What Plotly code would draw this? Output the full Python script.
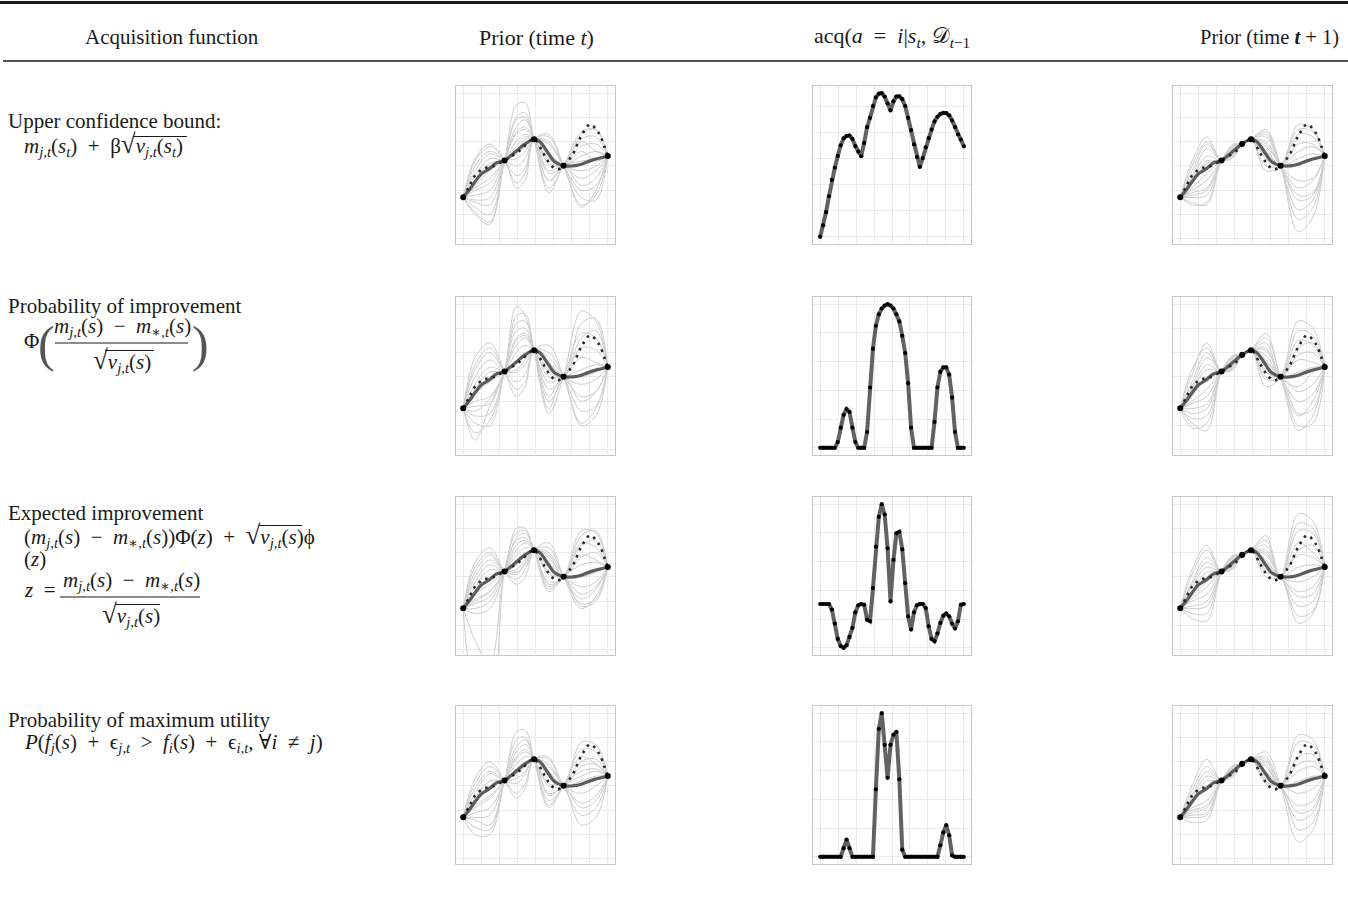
import plotly.graph_objects as go

W, H = 1348, 899
FONT = "Liberation Serif, Times New Roman, DejaVu Serif, serif"

# ---------------- data ----------------
N_POINTS = 50
X_EVAL = [i / (N_POINTS - 1) for i in range(N_POINTS)]

OBS_IDX = [0, 14, 24, 34, 49]
OBS_Y = [-1.29, 0.23, 1.10, 0.01, 0.41]
NEXT_IDX = [21, 21, 21, 21]          # chosen action per row
NEXT_Y = [0.91, 0.91, 0.91, 0.91]

MEAN_IDX = [0, 2, 4, 6, 9, 11, 14, 16, 18, 21, 24, 26, 29, 31, 34, 37, 39, 44, 49]
MEAN_Y = [-1.29, -0.99, -0.65, -0.34, -0.10, 0.11, 0.23, 0.41, 0.62, 0.91, 1.10, 1.00,
          0.49, 0.17, 0.01, 0.00, 0.04, 0.25, 0.41]

TRUE_IDX = [0, 2, 4, 7, 10, 14, 19, 24, 27, 30, 32, 34, 37, 40, 43, 46, 48, 49]
TRUE_Y = [-1.29, -0.85, -0.40, -0.10, -0.02, 0.23, 0.62, 1.10, 0.55, 0.00, -0.14, 0.01,
          0.45, 1.23, 1.71, 1.35, 0.75, 0.41]

KNOT_IDX = [0, 4, 9, 14, 18, 21, 24, 29, 34, 40, 45, 49]

SAMPLES_UCB_T = [
    [-1.29, 0.3, 0.9, 0.23, -0.7, -0.3, 1.10, 1.2, 0.01, -1.6, -1.2, 0.41],
    [-1.29, -1.9, -2.3, 0.23, 2.5, 2.6, 1.10, -0.9, 0.01, 1.4, 1.5, 0.41],
    [-1.29, -0.2, 0.5, 0.23, 0.0, 0.3, 1.10, 0.9, 0.01, -1.0, -0.8, 0.41],
    [-1.29, -1.5, -1.6, 0.23, 1.9, 2.0, 1.10, -0.6, 0.01, 1.1, 1.2, 0.41],
    [-1.29, -0.6, 0.1, 0.23, 0.3, 0.6, 1.10, 0.5, 0.01, -0.5, -0.2, 0.41],
    [-1.29, -1.2, -1.0, 0.23, 1.4, 1.6, 1.10, -0.3, 0.01, 0.8, 0.9, 0.41],
    [-1.29, 0.0, 0.6, 0.23, -0.4, -0.1, 1.10, 1.0, 0.01, -1.3, -1.4, 0.41],
    [-1.29, -1.7, -2.0, 0.23, 2.0, 2.2, 1.10, -1.1, 0.01, 1.0, 0.6, 0.41],
    [-1.29, -0.9, -0.5, 0.23, 1.0, 1.3, 1.10, 0.1, 0.01, 0.4, 0.6, 0.41],
    [-1.29, -0.4, 0.3, 0.23, 0.5, 0.8, 1.10, 0.4, 0.01, -0.2, 0.0, 0.41],
    [-1.29, -1.4, -1.3, 0.23, 1.6, 1.9, 1.10, -0.6, 0.01, 0.2, 0.3, 0.41],
    [-1.29, 0.2, 0.8, 0.23, -0.9, -0.6, 1.10, 1.3, 0.01, -1.7, -1.0, 0.41],
    [-1.29, -1.0, -0.7, 0.23, 0.8, 1.2, 1.10, 0.2, 0.01, 1.3, 1.5, 0.41],
    [-1.29, -0.8, -0.2, 0.23, 0.6, 1.1, 1.10, -0.2, 0.01, -0.8, -0.5, 0.41],
    [-1.29, -2.0, -2.4, 0.23, 1.3, 1.5, 1.10, 0.3, 0.01, 0.6, 0.2, 0.41],
]
SAMPLES_UCB_T1 = [
    [-1.29, 0.2, 1.2, 0.23, 0.55, 0.91, 1.10, 1.5, 0.01, -2.7, -2.1, 0.41],
    [-1.29, -1.5, -1.6, 0.23, 0.75, 0.91, 1.10, 0.0, 0.01, 1.7, 1.5, 0.41],
    [-1.29, -0.4, 0.7, 0.23, 0.45, 0.91, 1.10, 1.3, 0.01, -1.8, -1.4, 0.41],
    [-1.29, -1.2, -1.0, 0.23, 0.85, 0.91, 1.10, 0.3, 0.01, 1.3, 1.2, 0.41],
    [-1.29, -0.2, 0.9, 0.23, 0.35, 0.91, 1.10, 1.2, 0.01, -1.2, -1.1, 0.41],
    [-1.29, -1.0, -0.6, 0.23, 0.8, 0.91, 1.10, 0.6, 0.01, 0.9, 0.9, 0.41],
    [-1.29, -0.7, 0.1, 0.23, 0.6, 0.91, 1.10, 0.9, 0.01, -0.6, -0.5, 0.41],
    [-1.29, 0.0, 1.0, 0.23, 0.4, 0.91, 1.10, 1.4, 0.01, -2.2, -1.7, 0.41],
    [-1.29, -1.6, -1.5, 0.23, 0.7, 0.91, 1.10, -0.2, 0.01, 1.5, 1.4, 0.41],
    [-1.29, -0.9, -0.3, 0.23, 0.65, 0.91, 1.10, 0.7, 0.01, 0.3, 0.5, 0.41],
    [-1.29, -0.5, 0.4, 0.23, 0.5, 0.91, 1.10, 1.0, 0.01, -0.9, -0.6, 0.41],
    [-1.29, -1.3, -1.2, 0.23, 0.9, 0.91, 1.10, 0.4, 0.01, 0.1, 0.3, 0.41],
    [-1.29, -0.6, 0.2, 0.23, 0.55, 0.91, 1.10, 0.8, 0.01, -1.4, -1.2, 0.41],
    [-1.29, -1.1, -0.9, 0.23, 0.6, 0.91, 1.10, 0.5, 0.01, 0.6, 0.8, 0.41],
]
SAMPLES_PI_T = [
    [-1.29, -2.3, -1.8, 0.23, 2.9, 2.5, 1.10, -1.5, 0.01, 2.7, 2.3, 0.41],
    [-1.29, 0.8, 1.4, 0.23, -0.8, -0.4, 1.10, 1.0, 0.01, -2.0, -1.6, 0.41],
    [-1.29, -1.6, -1.5, 0.23, 2.2, 2.3, 1.10, -1.0, 0.01, 1.8, 1.6, 0.41],
    [-1.29, 0.3, 1.0, 0.23, -0.2, 0.1, 1.10, 0.8, 0.01, -1.4, -1.2, 0.41],
    [-1.29, -1.0, -0.8, 0.23, 1.6, 1.8, 1.10, -0.5, 0.01, 1.2, 1.1, 0.41],
    [-1.29, -0.3, 0.4, 0.23, 0.3, 0.7, 1.10, 0.5, 0.01, -0.8, -0.6, 0.41],
    [-1.29, -1.9, -2.0, 0.23, 1.9, 2.0, 1.10, -0.2, 0.01, 0.8, 0.6, 0.41],
    [-1.29, 0.5, 1.2, 0.23, -0.5, -0.2, 1.10, 1.3, 0.01, -1.9, -1.3, 0.41],
    [-1.29, -0.7, -0.2, 0.23, 1.0, 1.3, 1.10, 0.0, 0.01, 0.3, 0.5, 0.41],
    [-1.29, -1.2, -1.1, 0.23, 1.3, 1.6, 1.10, 0.2, 0.01, 1.6, 1.9, 0.41],
    [-1.29, 0.0, 0.7, 0.23, 0.2, 0.5, 1.10, 0.6, 0.01, -0.3, -0.1, 0.41],
    [-1.29, -2.6, -1.2, 0.23, 1.5, 1.7, 1.10, -0.8, 0.01, -1.0, -0.6, 0.41],
    [-1.29, -0.5, 0.2, 0.23, 0.6, 1.0, 1.10, 0.3, 0.01, 2.2, 2.4, 0.41],
    [-1.29, -1.4, -0.9, 0.23, 2.5, 2.6, 1.10, -1.3, 0.01, 0.0, 0.2, 0.41],
]
SAMPLES_PI_T1 = [
    [-1.29, -0.2, 1.0, 0.23, 0.4, 0.91, 1.10, 1.6, 0.01, -2.2, -1.6, 0.41],
    [-1.29, -1.7, -1.6, 0.23, 0.8, 0.91, 1.10, -0.1, 0.01, 1.9, 1.7, 0.41],
    [-1.29, 0.1, 1.4, 0.23, 0.35, 0.91, 1.10, 1.8, 0.01, -1.6, -1.0, 0.41],
    [-1.29, -1.3, -1.1, 0.23, 0.85, 0.91, 1.10, 0.2, 0.01, 1.2, 1.4, 0.41],
    [-1.29, -0.5, 0.5, 0.23, 0.5, 0.91, 1.10, 1.1, 0.01, -1.0, -0.7, 0.41],
    [-1.29, -1.0, -0.5, 0.23, 0.75, 0.91, 1.10, 0.5, 0.01, 0.7, 0.6, 0.41],
    [-1.29, -2.1, -1.9, 0.23, 0.9, 0.91, 1.10, -0.4, 0.01, 2.3, 2.0, 0.41],
    [-1.29, 0.3, 1.2, 0.23, 0.3, 0.91, 1.10, 1.4, 0.01, -0.4, 0.2, 0.41],
    [-1.29, -0.8, 0.0, 0.23, 0.6, 0.91, 1.10, 0.9, 0.01, 0.2, 0.4, 0.41],
    [-1.29, -1.5, -1.3, 0.23, 0.7, 0.91, 1.10, 0.3, 0.01, -1.5, -1.3, 0.41],
    [-1.29, -0.4, 0.8, 0.23, 0.45, 0.91, 1.10, 0.7, 0.01, 1.5, 1.3, 0.41],
    [-1.29, -1.1, -0.8, 0.23, 0.65, 0.91, 1.10, 0.0, 0.01, -0.6, -0.3, 0.41],
    [-1.29, -0.6, 0.3, 0.23, 0.55, 0.91, 1.10, 1.2, 0.01, 0.9, 1.0, 0.41],
    [-1.29, -1.9, -2.2, 0.23, 0.8, 0.91, 1.10, 0.6, 0.01, -2.0, -1.9, 0.41],
]
SAMPLES_EI_T = [
    [-1.29, -4.5, -5.0, 0.23, 1.8, 1.9, 1.10, -0.6, 0.01, 1.3, 1.5, 0.41],
    [-1.29, -2.6, -3.6, 0.23, 1.5, 1.6, 1.10, -0.4, 0.01, 0.9, 0.7, 0.41],
    [-1.29, 0.6, 1.2, 0.23, -0.3, 0.0, 1.10, 1.4, 0.01, -1.3, -0.8, 0.41],
    [-1.29, 0.2, 0.9, 0.23, 0.2, 0.5, 1.10, 1.0, 0.01, -0.9, -0.5, 0.41],
    [-1.29, -1.0, -0.6, 0.23, 1.3, 1.5, 1.10, -0.3, 0.01, 1.9, 1.8, 0.41],
    [-1.29, -0.4, 0.3, 0.23, 0.5, 0.9, 1.10, 0.6, 0.01, -0.4, -0.2, 0.41],
    [-1.29, -1.3, -1.0, 0.23, 1.6, 1.8, 1.10, -0.5, 0.01, 0.5, 0.6, 0.41],
    [-1.29, 0.4, 1.0, 0.23, -0.1, 0.3, 1.10, 1.2, 0.01, -1.1, -0.9, 0.41],
    [-1.29, -0.7, -0.3, 0.23, 0.9, 1.2, 1.10, 0.2, 0.01, 1.4, 1.2, 0.41],
    [-1.29, -0.2, 0.5, 0.23, 0.3, 0.7, 1.10, 0.9, 0.01, 0.0, 0.2, 0.41],
    [-1.29, -1.5, -1.3, 0.23, 2.0, 2.0, 1.10, -0.2, 0.01, 1.7, 1.9, 0.41],
    [-1.29, -0.9, -0.6, 0.23, 1.1, 1.4, 1.10, 0.4, 0.01, -0.7, -0.4, 0.41],
    [-1.29, 0.0, 0.7, 0.23, 0.1, 0.6, 1.10, 0.8, 0.01, 0.8, 1.0, 0.41],
    [-1.29, -1.1, -0.8, 0.23, 0.7, 1.0, 1.10, 0.1, 0.01, -1.2, -1.0, 0.41],
]
SAMPLES_EI_T1 = [
    [-1.29, 0.1, 1.1, 0.23, 0.4, 0.91, 1.10, 1.7, 0.01, 2.6, 2.3, 0.41],
    [-1.29, -1.3, -1.2, 0.23, 0.8, 0.91, 1.10, 0.2, 0.01, -1.9, -1.5, 0.41],
    [-1.29, -0.3, 0.6, 0.23, 0.5, 0.91, 1.10, 1.3, 0.01, 1.9, 1.8, 0.41],
    [-1.29, -1.0, -0.7, 0.23, 0.75, 0.91, 1.10, 0.5, 0.01, -1.2, -1.0, 0.41],
    [-1.29, 0.3, 1.3, 0.23, 0.35, 0.91, 1.10, 1.5, 0.01, 1.4, 1.0, 0.41],
    [-1.29, -0.6, 0.2, 0.23, 0.6, 0.91, 1.10, 0.9, 0.01, -0.6, -0.4, 0.41],
    [-1.29, -1.5, -1.5, 0.23, 0.85, 0.91, 1.10, 0.0, 0.01, 0.9, 0.8, 0.41],
    [-1.29, -0.2, 0.8, 0.23, 0.45, 0.91, 1.10, 1.1, 0.01, -0.2, 0.0, 0.41],
    [-1.29, -0.8, -0.2, 0.23, 0.7, 0.91, 1.10, 0.7, 0.01, 0.4, 0.5, 0.41],
    [-1.29, -1.2, -1.0, 0.23, 0.8, 0.91, 1.10, 0.3, 0.01, -1.6, -1.4, 0.41],
    [-1.29, -0.4, 0.4, 0.23, 0.55, 0.91, 1.10, 1.0, 0.01, 2.2, 2.0, 0.41],
    [-1.29, -0.9, -0.4, 0.23, 0.65, 0.91, 1.10, 0.6, 0.01, -0.8, -0.7, 0.41],
    [-1.29, -1.7, -1.8, 0.23, 0.9, 0.91, 1.10, 0.4, 0.01, 1.1, 1.3, 0.41],
]
SAMPLES_PMU_T = [
    [-1.29, 0.1, 0.8, 0.23, -0.3, 0.1, 1.10, 1.1, 0.01, -1.2, -0.9, 0.41],
    [-1.29, -1.4, -1.6, 0.23, 1.9, 2.0, 1.10, -0.6, 0.01, 1.5, 1.4, 0.41],
    [-1.29, -0.3, 0.5, 0.23, 0.3, 0.6, 1.10, 0.8, 0.01, -0.7, -0.4, 0.41],
    [-1.29, -1.1, -0.9, 0.23, 1.4, 1.7, 1.10, -0.3, 0.01, 1.0, 1.1, 0.41],
    [-1.29, -0.6, 0.0, 0.23, 0.7, 1.0, 1.10, 0.4, 0.01, -1.6, -1.3, 0.41],
    [-1.29, -1.7, -1.8, 0.23, 1.6, 1.9, 1.10, -0.8, 0.01, 0.6, 0.7, 0.41],
    [-1.29, 0.3, 1.0, 0.23, -0.5, -0.1, 1.10, 1.2, 0.01, 0.2, 0.4, 0.41],
    [-1.29, -0.9, -0.5, 0.23, 1.1, 1.4, 1.10, 0.0, 0.01, 1.8, 1.7, 0.41],
    [-1.29, -0.1, 0.6, 0.23, 0.1, 0.5, 1.10, 0.9, 0.01, -0.3, 0.0, 0.41],
    [-1.29, -1.3, -1.2, 0.23, 1.2, 1.5, 1.10, 0.1, 0.01, -0.9, -0.6, 0.41],
    [-1.29, -0.5, 0.2, 0.23, 0.5, 0.8, 1.10, 0.6, 0.01, 0.8, 0.9, 0.41],
    [-1.29, -0.8, -0.4, 0.23, 0.9, 1.2, 1.10, -0.4, 0.01, 0.4, 0.6, 0.41],
    [-1.29, -2.0, -2.0, 0.23, 2.2, 2.3, 1.10, -0.9, 0.01, 1.2, 0.9, 0.41],
]
SAMPLES_PMU_T1 = [
    [-1.29, 0.0, 1.1, 0.23, 0.4, 0.91, 1.10, 1.4, 0.01, -2.3, -1.8, 0.41],
    [-1.29, -1.2, -1.1, 0.23, 0.8, 0.91, 1.10, 0.2, 0.01, 1.8, 1.7, 0.41],
    [-1.29, -0.5, 0.4, 0.23, 0.5, 0.91, 1.10, 1.0, 0.01, -1.4, -1.1, 0.41],
    [-1.29, -0.9, -0.6, 0.23, 0.7, 0.91, 1.10, 0.6, 0.01, 1.2, 1.3, 0.41],
    [-1.29, -0.2, 0.8, 0.23, 0.45, 0.91, 1.10, 1.2, 0.01, -0.8, -0.6, 0.41],
    [-1.29, -1.5, -1.4, 0.23, 0.85, 0.91, 1.10, 0.3, 0.01, 0.6, 0.8, 0.41],
    [-1.29, -0.7, 0.0, 0.23, 0.6, 0.91, 1.10, 0.8, 0.01, 2.1, 1.9, 0.41],
    [-1.29, -1.0, -0.8, 0.23, 0.75, 0.91, 1.10, 0.4, 0.01, -1.8, -1.5, 0.41],
    [-1.29, -0.4, 0.6, 0.23, 0.55, 0.91, 1.10, 1.1, 0.01, 0.2, 0.4, 0.41],
    [-1.29, -1.3, -1.2, 0.23, 0.8, 0.91, 1.10, 0.1, 0.01, -0.3, -0.1, 0.41],
    [-1.29, -0.6, 0.2, 0.23, 0.6, 0.91, 1.10, 0.9, 0.01, 0.9, 1.0, 0.41],
    [-1.29, -1.1, -0.9, 0.23, 0.7, 0.91, 1.10, 0.5, 0.01, -1.1, -0.9, 0.41],
]

ACQ_UCB = [0.00, 0.44, 0.94, 1.55, 2.18, 2.64, 3.09, 3.50, 3.76, 3.86,
           3.87, 3.74, 3.47, 3.26, 3.08, 3.59, 4.19, 4.55, 5.00, 5.33,
           5.47, 5.49, 5.36, 5.10, 4.83, 5.18, 5.36, 5.37, 5.26, 5.00,
           4.55, 4.08, 3.53, 3.05, 2.67, 3.01, 3.42, 3.77, 4.10, 4.41,
           4.59, 4.69, 4.74, 4.73, 4.64, 4.45, 4.19, 3.91, 3.72, 3.46]
ACQ_PI = [0, 0, 0, 0, 0, 0, 0.04, 0.14, 0.23, 0.27,
          0.25, 0.14, 0.04, 0, 0, 0, 0.11, 0.42, 0.69, 0.85,
          0.93, 0.97, 0.99, 1.00, 0.99, 0.97, 0.93, 0.88, 0.78, 0.66,
          0.45, 0.14, 0, 0, 0, 0, 0, 0, 0, 0.18,
          0.42, 0.53, 0.56, 0.56, 0.51, 0.35, 0.11, 0, 0, 0]
ACQ_EI = [0.305, 0.305, 0.305, 0.305, 0.266, 0.169, 0.062, 0.012, 0.000, 0.018,
          0.076, 0.139, 0.247, 0.296, 0.305, 0.300, 0.196, 0.185, 0.416, 0.704,
          0.912, 1.000, 0.928, 0.693, 0.323, 0.612, 0.797, 0.808, 0.686, 0.450,
          0.219, 0.127, 0.247, 0.296, 0.305, 0.305, 0.277, 0.150, 0.062, 0.046,
          0.099, 0.173, 0.224, 0.238, 0.219, 0.169, 0.134, 0.185, 0.300, 0.305]
ACQ_PMU = [0, 0, 0, 0, 0, 0, 0, 0, 0.06, 0.12,
           0.06, 0, 0, 0, 0, 0, 0, 0, 0, 0.47,
           0.89, 1.00, 0.78, 0.55, 0.78, 0.85, 0.87, 0.54, 0.05, 0,
           0, 0, 0, 0, 0, 0, 0, 0, 0, 0,
           0, 0.08, 0.17, 0.22, 0.15, 0.01, 0, 0, 0, 0]

ROW_SAMPLES = [(SAMPLES_UCB_T, SAMPLES_UCB_T1), (SAMPLES_PI_T, SAMPLES_PI_T1),
               (SAMPLES_EI_T, SAMPLES_EI_T1), (SAMPLES_PMU_T, SAMPLES_PMU_T1)]
ROW_ACQ = [ACQ_UCB, ACQ_PI, ACQ_EI, ACQ_PMU]
ACQ_DTICK = [1, 0.2, 0.2, 0.2]

# ---------------- layout geometry (pixels) ----------------
COLS = [(456, 615), (813, 971), (1173, 1332)]
ROWS = [(86, 244), (297, 455), (497, 655), (706, 864)]

def px(x):
    return x / W

def py(y):
    return 1 - y / H

fig = go.Figure()
layout = dict(width=W, height=H, margin=dict(l=0, r=0, t=0, b=0),
              paper_bgcolor="white", plot_bgcolor="white", showlegend=False)

AX_STYLE = dict(showline=True, mirror=True, linecolor="#c6c6c6", linewidth=1,
                showgrid=True, gridcolor="#ebebeb", gridwidth=1, zeroline=False,
                showticklabels=False, ticks="", fixedrange=True)

def add_axes(k, r, c, yrange, ydtick, y0tick=0):
    x0, x1 = COLS[c]
    y0, y1 = ROWS[r]
    sfx = "" if k == 1 else str(k)
    layout["xaxis" + sfx] = dict(domain=[px(x0), px(x1)], range=[-0.05, 1.05],
                                 dtick=0.125, tick0=0, anchor="y" + sfx, **AX_STYLE)
    layout["yaxis" + sfx] = dict(domain=[py(y1), py(y0)], range=yrange,
                                 dtick=ydtick, tick0=y0tick, anchor="x" + sfx, **AX_STYLE)
    return "x" + sfx, "y" + sfx

PRIOR_RANGE = [-3.21, 3.29]

def prior_panel(xa, ya, samples, extra_idx=None, extra_y=None):
    kx = [X_EVAL[i] for i in KNOT_IDX]
    for s in samples:
        fig.add_trace(go.Scatter(x=kx, y=s, mode="lines", xaxis=xa, yaxis=ya,
                                 line=dict(color="#cdcdcd", width=1, shape="spline", smoothing=1.0),
                                 hoverinfo="skip"))
    fig.add_trace(go.Scatter(x=[X_EVAL[i] for i in MEAN_IDX], y=MEAN_Y, mode="lines",
                             xaxis=xa, yaxis=ya,
                             line=dict(color="#5c5c5c", width=3.2, shape="spline", smoothing=1.0)))
    fig.add_trace(go.Scatter(x=[X_EVAL[i] for i in TRUE_IDX], y=TRUE_Y, mode="lines",
                             xaxis=xa, yaxis=ya,
                             line=dict(color="#262626", width=2.6, dash="2.5px,5px",
                                       shape="spline", smoothing=1.0)))
    ox = [X_EVAL[i] for i in OBS_IDX]
    oy = list(OBS_Y)
    if extra_idx is not None:
        ox.append(X_EVAL[extra_idx])
        oy.append(extra_y)
    fig.add_trace(go.Scatter(x=ox, y=oy, mode="markers", xaxis=xa, yaxis=ya,
                             marker=dict(color="black", size=6), cliponaxis=False))

def acq_panel(xa, ya, vals):
    fig.add_trace(go.Scatter(x=X_EVAL, y=vals, mode="lines+markers", xaxis=xa, yaxis=ya,
                             line=dict(color="#626262", width=4),
                             marker=dict(color="black", size=4.2)))

k = 1
for r in range(4):
    st, st1 = ROW_SAMPLES[r]
    xa, ya = add_axes(k, r, 0, PRIOR_RANGE, 1); k += 1
    prior_panel(xa, ya, st)
    vals = ROW_ACQ[r]
    vmax = max(vals)
    pad = 0.05 * vmax
    xa, ya = add_axes(k, r, 1, [-pad, vmax + pad], ACQ_DTICK[r]); k += 1
    acq_panel(xa, ya, vals)
    xa, ya = add_axes(k, r, 2, PRIOR_RANGE, 1); k += 1
    prior_panel(xa, ya, st1, NEXT_IDX[r], NEXT_Y[r])

# ---------------- text ----------------
ann = []

def txt(x, y, s, size=21, xanchor="left", color="#1a1a1a"):
    ann.append(dict(x=px(x), y=py(y), xref="paper", yref="paper", text=s, showarrow=False,
                    xanchor=xanchor, yanchor="middle", align="left",
                    font=dict(family=FONT, size=size, color=color)))

shapes = []

def hline(x0, x1, y, w=1.2, color="#1a1a1a"):
    shapes.append(dict(type="line", xref="paper", yref="paper", x0=px(x0), x1=px(x1),
                       y0=py(y), y1=py(y), line=dict(color=color, width=w)))

# table rules
hline(0, W, 2.5, 3)
hline(3, W, 61, 1.5)

# header
txt(172, 37, "Acquisition function", xanchor="center")
txt(536, 37, "Prior (time <i>t</i>)", xanchor="center", size=22)
txt(892, 37, "acq(<i>a</i>  =  <i>i</i>|<i>s<sub>t</sub></i>, 𝒟<sub><i>t</i>−1</sub>", xanchor="center", size=22)
txt(1341, 37, "Prior (time <b><i>t</i></b> + 1)", xanchor="right", size=20.5)

M_JT = "<i>m</i><sub><i>j,t</i></sub>"
M_ST = "<i>m</i><sub>∗<i>,t</i></sub>"
V_JT = "<i>v</i><sub><i>j,t</i></sub>"
SQRT = '<span style="font-size:27px">√</span>'

# row 1: UCB
txt(6, 121, "Upper confidence bound:")
txt(22, 145, M_JT + "(<i>s<sub>t</sub></i>)  +  β" + SQRT + V_JT + "(<i>s<sub>t</sub></i>)")
hline(133, 187, 136.5, 1.1)

# row 2: PI
txt(6, 306, "Probability of improvement")
txt(22, 341, "Φ")
txt(36, 344, "(", size=50, color="#555555")
txt(122, 327, M_JT + "(<i>s</i>)  −  " + M_ST + "(<i>s</i>)", xanchor="center")
hline(55, 188, 343, 1.2)
txt(122, 360, SQRT + V_JT + "(<i>s</i>)", xanchor="center")
hline(105, 154, 350.5, 1.1)
txt(190, 344, ")", size=50, color="#555555")

# row 3: EI
txt(6, 513, "Expected improvement")
txt(22, 535, "(" + M_JT + "(<i>s</i>)  −  " + M_ST + "(<i>s</i>))Φ(<i>z</i>)  +  " + SQRT + V_JT + "(<i>s</i>)ϕ")
hline(259, 302, 525.5, 1.1)
txt(22, 559, "(<i>z</i>)")
txt(22, 590, "<i>z</i>  =")
txt(131, 581, M_JT + "(<i>s</i>)  −  " + M_ST + "(<i>s</i>)", xanchor="center")
hline(60, 200, 597, 1.2)
txt(131, 614, SQRT + V_JT + "(<i>s</i>)", xanchor="center")
hline(116, 160, 604.5, 1.1)

# row 4: PMU
txt(6, 720, "Probability of maximum utility")
txt(22, 743, "<i>P</i>(<i>f<sub>j</sub></i>(<i>s</i>)  +  ϵ<sub><i>j,t</i></sub>  >  <i>f<sub>i</sub></i>(<i>s</i>)  +  ϵ<sub><i>i,t</i></sub>, ∀<i>i</i>  ≠  <i>j</i>)")

layout["annotations"] = ann
layout["shapes"] = shapes
fig.update_layout(**layout)

fig.write_html("out.html", config={"displayModeBar": False},
               post_script="document.body.style.margin='0';document.body.style.overflow='hidden';")
